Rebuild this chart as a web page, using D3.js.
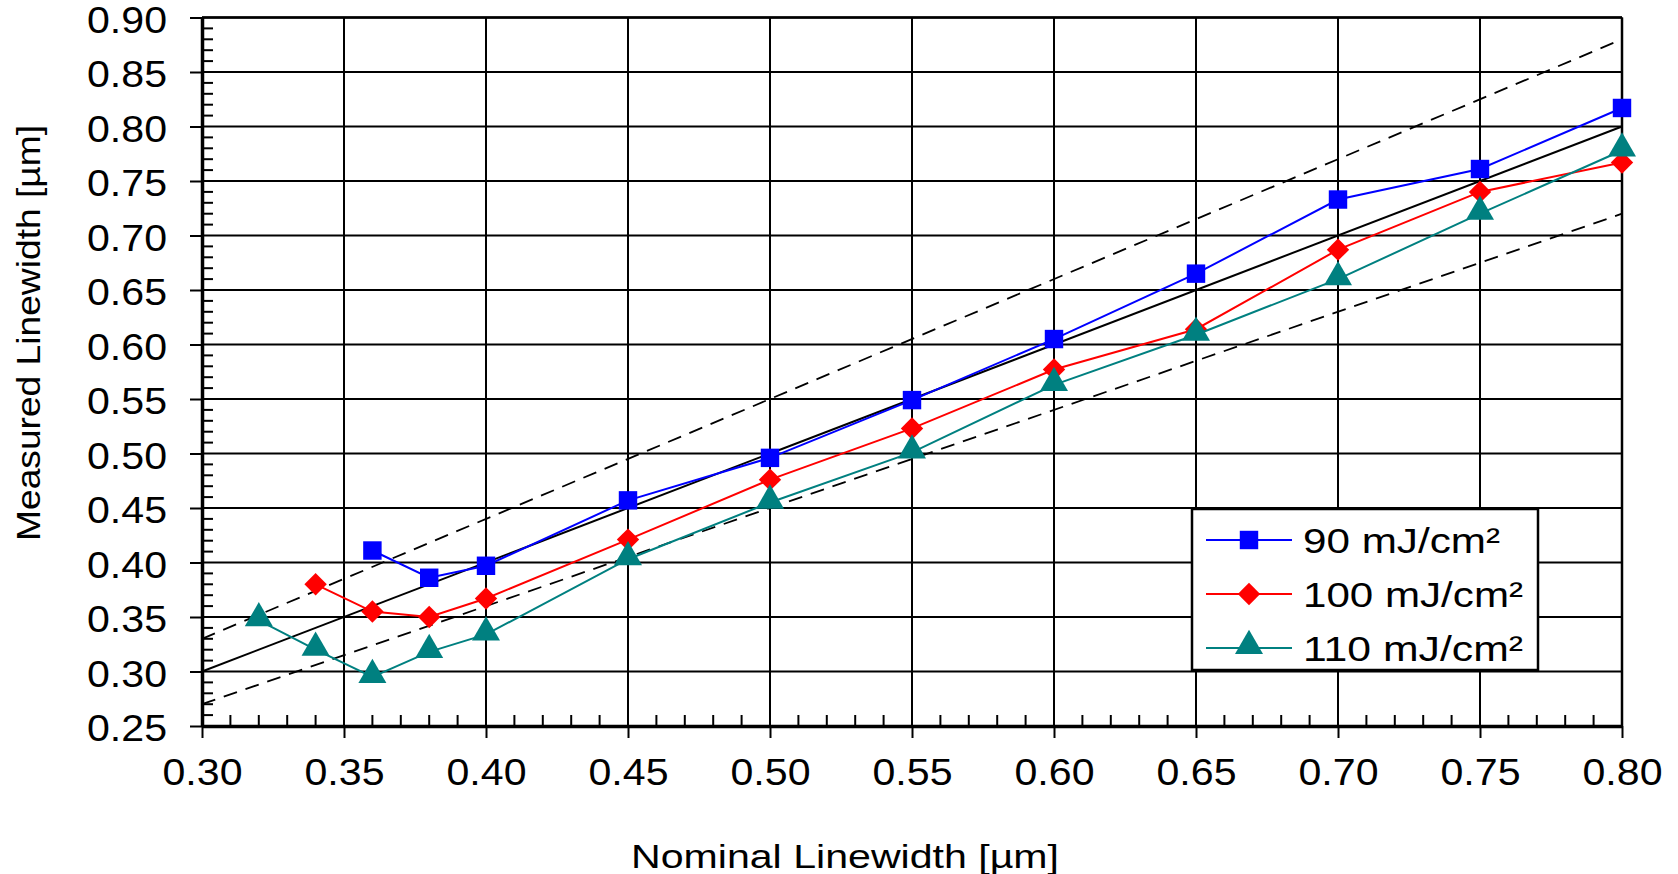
<!DOCTYPE html>
<html>
<head>
<meta charset="utf-8">
<script src="https://cdn.jsdelivr.net/npm/d3@7"></script>
<style>
  body { margin: 0; background: #fff; }
  svg { display: block; font-family: Arial, "Liberation Sans", sans-serif; }
</style>
</head>
<body>
<svg id="chart" width="1678" height="874"></svg>
<script>
// Nominal linewidth (x) for each series
var nominal90 = [0.36, 0.38, 0.40, 0.45, 0.50, 0.55, 0.60, 0.65, 0.70, 0.75, 0.80];
var measured90 = [0.411, 0.386, 0.397, 0.457, 0.496, 0.549, 0.605, 0.665, 0.733, 0.761, 0.817];

var nominal100 = [0.34, 0.36, 0.38, 0.40, 0.45, 0.50, 0.55, 0.60, 0.65, 0.70, 0.75, 0.80];
var measured100 = [0.380, 0.355, 0.350, 0.367, 0.421, 0.476, 0.523, 0.577, 0.614, 0.687, 0.740, 0.767];

var nominal110 = [0.32, 0.34, 0.36, 0.38, 0.40, 0.45, 0.50, 0.55, 0.60, 0.65, 0.70, 0.75, 0.80];
var measured110 = [0.347, 0.320, 0.295, 0.318, 0.334, 0.403, 0.455, 0.501, 0.563, 0.609, 0.660, 0.720, 0.778];

var seriesNames = ["90 mJ/cm²", "100 mJ/cm²", "110 mJ/cm²"];
var xTicks = [0.30, 0.35, 0.40, 0.45, 0.50, 0.55, 0.60, 0.65, 0.70, 0.75, 0.80];
var yTicks = [0.25, 0.30, 0.35, 0.40, 0.45, 0.50, 0.55, 0.60, 0.65, 0.70, 0.75, 0.80, 0.85, 0.90];
// reference lines: ideal and +/-10 %
var refFactors = [1.0, 1.1, 0.9];

var series = [
  { name: seriesNames[0], xs: nominal90, ys: measured90, color: "#0000ff", symbol: d3.symbolSquare, size: 340 },
  { name: seriesNames[1], xs: nominal100, ys: measured100, color: "#ff0000", symbol: d3.symbolDiamond2, size: 320 },
  { name: seriesNames[2], xs: nominal110, ys: measured110, color: "#008080", symbol: d3.symbolTriangle, size: 340 }
];

var svg = d3.select("#chart");
var margin = { left: 202, top: 17.5 };
var width = 1420, height = 708.5;

var x = d3.scaleLinear().domain([0.30, 0.80]).range([0, width]);
var y = d3.scaleLinear().domain([0.25, 0.90]).range([height, 0]);

var g = svg.append("g").attr("transform", "translate(" + margin.left + "," + margin.top + ")");

// grid lines
g.selectAll(".hgrid").data(yTicks).enter().append("line")
  .attr("x1", 0).attr("x2", width)
  .attr("y1", function(d) { return y(d); }).attr("y2", function(d) { return y(d); })
  .attr("stroke", "#000").attr("stroke-width", 2);
g.selectAll(".vgrid").data(xTicks).enter().append("line")
  .attr("y1", 0).attr("y2", height)
  .attr("x1", function(d) { return x(d); }).attr("x2", function(d) { return x(d); })
  .attr("stroke", "#000").attr("stroke-width", 2);

// minor ticks every 0.01, pointing inside
var minorX = d3.range(31, 80).map(function(i) { return i / 100; }).filter(function(v) { return Math.round(v * 100) % 5 !== 0; });
var minorY = d3.range(26, 90).map(function(i) { return i / 100; }).filter(function(v) { return Math.round(v * 100) % 5 !== 0; });
g.selectAll(".mx").data(minorX).enter().append("line")
  .attr("x1", function(d) { return x(d); }).attr("x2", function(d) { return x(d); })
  .attr("y1", height).attr("y2", height - 11)
  .attr("stroke", "#000").attr("stroke-width", 2);
g.selectAll(".my").data(minorY).enter().append("line")
  .attr("y1", function(d) { return y(d); }).attr("y2", function(d) { return y(d); })
  .attr("x1", 0).attr("x2", 11)
  .attr("stroke", "#000").attr("stroke-width", 2);

// axes
var xAxis = g.append("g").attr("transform", "translate(0," + height + ")")
  .call(d3.axisBottom(x).tickValues(xTicks).tickFormat(d3.format(".2f")).tickSize(12).tickSizeOuter(0));
var yAxis = g.append("g")
  .call(d3.axisLeft(y).tickValues(yTicks).tickFormat(d3.format(".2f")).tickSize(12).tickSizeOuter(0));

[xAxis, yAxis].forEach(function(ax) {
  ax.select(".domain").attr("stroke", "#000").attr("stroke-width", 3.5);
  ax.selectAll(".tick line").attr("stroke", "#000").attr("stroke-width", 2);
  ax.selectAll(".tick text")
    .attr("fill", "#000")
    .style("font-size", "36px")
    .attr("textLength", 80).attr("lengthAdjust", "spacingAndGlyphs");
});
xAxis.selectAll(".tick text").attr("y", 55).attr("dy", "0.1em");
yAxis.selectAll(".tick text").attr("x", -35).attr("dy", "0.41em");

// right and top border
g.append("line").attr("x1", width).attr("x2", width).attr("y1", 0).attr("y2", height)
  .attr("stroke", "#000").attr("stroke-width", 2.5);
g.append("line").attr("x1", 0).attr("x2", width).attr("y1", 0).attr("y2", 0)
  .attr("stroke", "#000").attr("stroke-width", 2.5);

// reference lines
g.selectAll(".ref").data(refFactors).enter().append("line")
  .attr("x1", x(0.30)).attr("x2", x(0.80))
  .attr("y1", function(f) { return y(0.30 * f); })
  .attr("y2", function(f) { return y(0.80 * f); })
  .attr("stroke", "#000")
  .attr("stroke-width", function(f) { return f === 1 ? 2 : 1.8; })
  .attr("stroke-dasharray", function(f) { return f === 1 ? null : "14,9"; });

// series
var line = d3.line().x(function(d) { return x(d[0]); }).y(function(d) { return y(d[1]); });
series.forEach(function(s) {
  var pts = d3.zip(s.xs, s.ys);
  g.append("path").datum(pts)
    .attr("d", line).attr("fill", "none")
    .attr("stroke", s.color).attr("stroke-width", 2);
  g.selectAll(null).data(pts).enter().append("path")
    .attr("d", d3.symbol().type(s.symbol).size(s.size))
    .attr("transform", function(d) {
      var dy = s.symbol === d3.symbolTriangle ? -2 : 0;
      return "translate(" + x(d[0]) + "," + (y(d[1]) + dy) + ")";
    })
    .attr("fill", s.color);
});

// legend
var legend = svg.append("g").attr("transform", "translate(1192,509)");
legend.append("rect").attr("width", 346).attr("height", 161)
  .attr("fill", "#fff").attr("stroke", "#000").attr("stroke-width", 2.5);
var legendWidths = [197, 220, 220];
series.forEach(function(s, i) {
  var row = legend.append("g").attr("transform", "translate(0," + (31 + i * 54) + ")");
  row.append("line").attr("x1", 14).attr("x2", 100).attr("stroke", s.color).attr("stroke-width", 2);
  row.append("path").attr("d", d3.symbol().type(s.symbol).size(s.size))
    .attr("transform", "translate(57," + (s.symbol === d3.symbolTriangle ? -2 : 0) + ")")
    .attr("fill", s.color);
  row.append("text").attr("x", 111).attr("dy", "0.36em")
    .style("font-size", "35px")
    .attr("textLength", legendWidths[i]).attr("lengthAdjust", "spacingAndGlyphs")
    .text(s.name);
});

// axis titles
svg.append("text").attr("x", 845).attr("y", 868).attr("text-anchor", "middle")
  .style("font-size", "34px")
  .attr("textLength", 428).attr("lengthAdjust", "spacingAndGlyphs")
  .text("Nominal Linewidth [µm]");
svg.append("text").attr("transform", "translate(40,333) rotate(-90)").attr("text-anchor", "middle")
  .style("font-size", "34px")
  .attr("textLength", 416).attr("lengthAdjust", "spacingAndGlyphs")
  .text("Measured Linewidth [µm]");
</script>
</body>
</html>
